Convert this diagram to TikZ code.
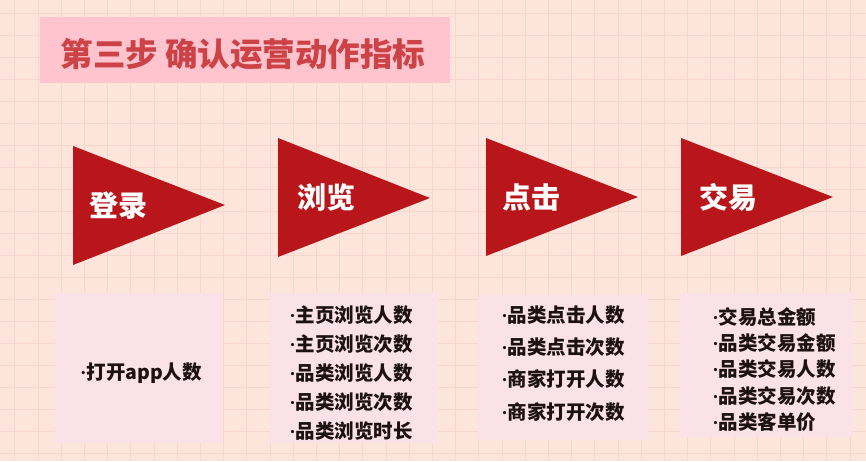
\documentclass[tikz,border=0pt]{standalone}
\usepackage{fontspec}
\newfontfamily\cjk{Noto Sans CJK SC}
\newfontfamily\dotfont{Liberation Serif}
\newcommand\dotmark{{\dotfont\bfseries ·}}
\usetikzlibrary{positioning}

\definecolor{pagebg}{RGB}{253,229,220}
\definecolor{gridc}{RGB}{247,215,205}
\definecolor{barpink}{RGB}{255,196,205}
\definecolor{titlered}{RGB}{204,66,70}
\definecolor{flagred}{RGB}{185,22,28}
\definecolor{boxpink}{RGB}{251,225,232}
\definecolor{ink}{RGB}{28,18,20}

\begin{document}
\begin{tikzpicture}[
  x=1pt, y=-1pt,
  gridline/.style={draw=gridc, line width=0.8pt},
  flag/.style={fill=flagred},
  flaglabel/.style={anchor=west, inner sep=0pt, text=white,
                    font=\cjk\bfseries\fontsize{29}{29}\selectfont},
  box/.style={fill=boxpink, inner sep=0pt},
  items/.style={align=left, inner sep=0pt, text=ink,
                font=\cjk\bfseries\fontsize{19.5}{#1}\selectfont}
]
  \clip (0,0) rectangle (866,461);
  \fill[pagebg] (0,0) rectangle (866,461);
  \foreach \gx in {0,...,36}
    \draw[gridline] ({14.8+23.2*\gx},0) -- ({14.8+23.2*\gx},461);
  \foreach \gy in {0,...,20}
    \draw[gridline] (0,{13+22*\gy}) -- (866,{13+22*\gy});

  % title
  \node[fill=barpink, inner sep=0pt, minimum width=410, minimum height=66]
        (bar) at (245,50) {};
  \node[inner sep=0pt, text=titlered,
        font=\cjk\bfseries\fontsize{32.5}{32.5}\selectfont]
        (title) at (243,54) {第三步 确认运营动作指标};

  % steps
  \fill[flag] (73,146) -- (225,205) -- (73,265) -- cycle;
  \fill[flag] (278,138) -- (430,198) -- (278,257) -- cycle;
  \fill[flag] (486,138) -- (638,197) -- (486,256) -- cycle;
  \fill[flag] (681,138) -- (833,197) -- (681,256) -- cycle;

  \node[flaglabel] (login)  at (89,206)  {登录};
  \node[flaglabel] (browse) at (297,197) {浏览};
  \node[flaglabel] (click)  at (502,197) {点击};
  \node[flaglabel] (trade)  at (699,197) {交易};

  % metrics
  \node[box, minimum width=168, minimum height=150] (b1) at (139,368) {};
  \node[box, minimum width=168, minimum height=150] (b2) at (354,368) {};
  \node[box, minimum width=170, minimum height=145] (b3) at (563,367.5) {};
  \node[box, minimum width=173, minimum height=144] (b4) at (766.5,365) {};

  \node[items=29] (m1) at (141,373) {\dotmark 打开app人数};
  \node[items=29] (m2) at (351,373)
        {\dotmark 主页浏览人数\\\dotmark 主页浏览次数\\\dotmark 品类浏览人数\\
         \dotmark 品类浏览次数\\\dotmark 品类浏览时长};
  \node[items=32.3] (m3) at (563,363.5)
        {\dotmark 品类点击人数\\\dotmark 品类点击次数\\\dotmark 商家打开人数\\
         \dotmark 商家打开次数};
  \node[items=26.3] (m4) at (774,369.5)
        {\dotmark 交易总金额\\\dotmark 品类交易金额\\\dotmark 品类交易人数\\
         \dotmark 品类交易次数\\\dotmark 品类客单价};
\end{tikzpicture}
\end{document}
